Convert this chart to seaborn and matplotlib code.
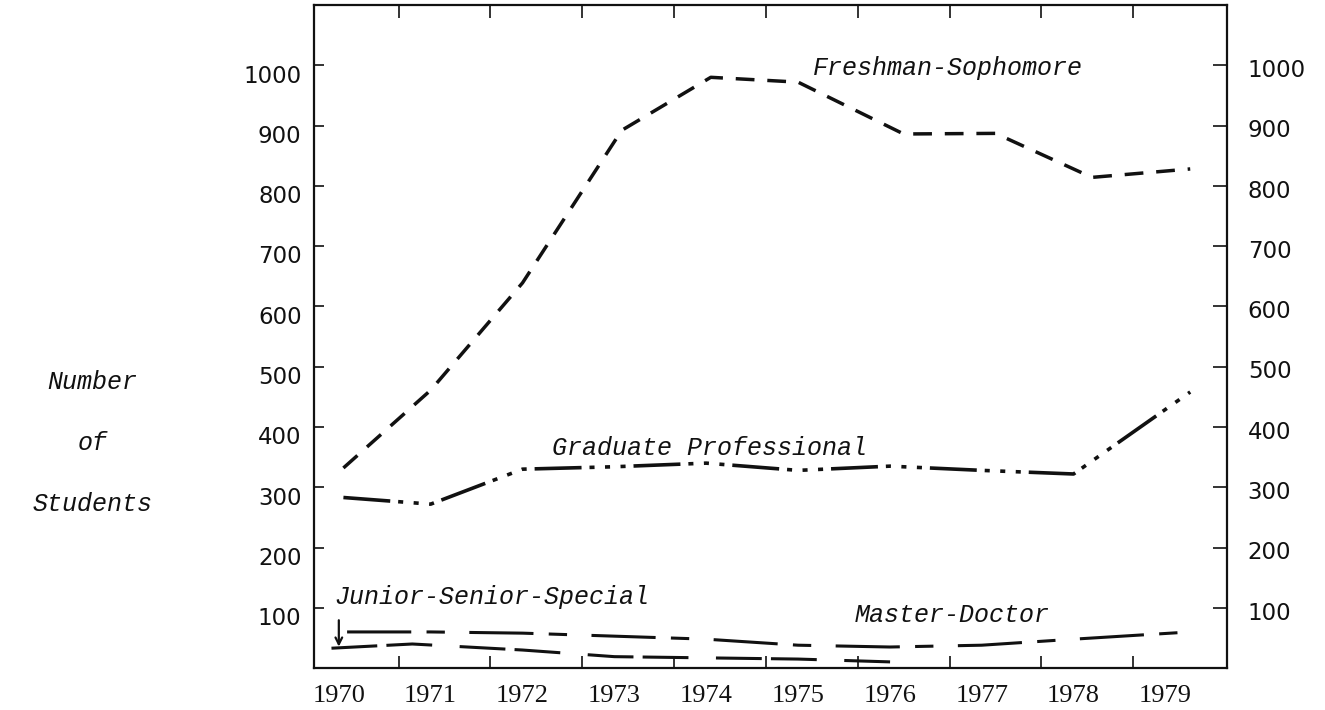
import numpy as np
import seaborn as sns
import matplotlib.pyplot as plt
from matplotlib.transforms import ScaledTranslation

# Tahun pada sumbu x dan nilai tiap kelompok mahasiswa
tahun = [1970, 1971, 1972, 1973, 1974, 1975, 1976, 1977, 1978, 1979]
y_ticks = [100, 200, 300, 400, 500, 600, 700, 800, 900, 1000]

fresh_x = [1970.05, 1971.0, 1972.0, 1973.08, 1974.05, 1975.0, 1976.15, 1977.15, 1978.2, 1979.27]
fresh_y = [332, 461, 639, 892, 980, 972, 886, 887, 814, 828]

grad_x = [1970.05, 1971.0, 1972.0, 1973.0, 1974.0, 1975.0, 1976.0, 1977.0, 1978.0, 1979.27]
grad_y = [283, 272, 330, 334, 340, 328, 335, 328, 322, 458]

master_x = [1970.09, 1971.0, 1972.0, 1973.0, 1974.0, 1975.0, 1976.0, 1977.0, 1978.0, 1979.27]
master_y = [60, 60, 58, 53, 48, 38, 35, 38, 48, 60]

junior_x = [1969.92, 1970.8, 1972.0, 1973.0, 1974.0, 1975.0, 1976.07]
junior_y = [33, 40, 30, 19, 17, 15, 10]

sns.set_theme(style="white")
plt.rcParams['font.family'] = ['DejaVu Sans']

fig = plt.figure(figsize=(13.25, 7.1), dpi=100)
ax = fig.add_axes([0.237, 0.059, 0.689, 0.934])

warna = '#111111'
# Freshman-Sophomore: garis putus-putus
sns.lineplot(x=fresh_x, y=fresh_y, ax=ax, color=warna, lw=2.5, errorbar=None)
ax.lines[-1].set_linestyle((0, (5.4, 3.7)))
# Graduate Professional: garis-titik-titik-titik
sns.lineplot(x=grad_x, y=grad_y, ax=ax, color=warna, lw=2.6, errorbar=None)
ax.lines[-1].set_linestyle((0, (13, 2.2, 1.4, 2.9, 1.4, 2.9, 1.4, 2.2)))
# Master-Doctor: panjang-pendek
sns.lineplot(x=master_x, y=master_y, ax=ax, color=warna, lw=2.2, errorbar=None)
ax.lines[-1].set_linestyle((0, (21, 5, 6, 8)))
# Junior-Senior-Special
sns.lineplot(x=junior_x, y=junior_y, ax=ax, color=warna, lw=2.2, errorbar=None)
ax.lines[-1].set_linestyle((0, (15, 3, 15, 9)))

ax.set_xlim(1969.73, 1979.67)
ax.set_ylim(0, 1100)

# Label sumbu y di kiri dan kanan
ax.set_yticks(y_ticks)
ax.set_yticklabels([str(v) for v in y_ticks])
ax.tick_params(axis='y', which='major', direction='in', left=True, right=True,
               labelleft=True, labelright=True, length=7, width=1.2,
               labelsize=16.5, colors=warna, pad=9)
for t in ax.yaxis.get_major_ticks():
    t.tick2line.set_markersize(10)
    t.label1.set_transform(t.label1.get_transform() +
                           ScaledTranslation(0, -6 / 72, fig.dpi_scale_trans))
    t.label2.set_transform(t.label2.get_transform() +
                           ScaledTranslation(6 / 72, -2 / 72, fig.dpi_scale_trans))

# Label tahun di bawah, tanda tick di antara tahun
ax.set_xticks(tahun)
ax.set_xticklabels([str(t) for t in tahun], family='Liberation Serif')
ax.set_xticks(np.arange(9) + tahun[0] + 0.65, minor=True)
ax.tick_params(axis='x', which='major', length=0, pad=12, labelsize=19, colors=warna)
ax.tick_params(axis='x', which='minor', direction='in', top=True, bottom=True,
               length=9, width=1.2, color=warna)

for s in ax.spines.values():
    s.set_color(warna)
    s.set_linewidth(1.6)
ax.set_xlabel('')
ax.set_ylabel('')

mono = dict(family='Liberation Mono', style='italic', fontsize=18, color=warna)
ax.text(1975.16, 995, 'Freshman-Sophomore', va='center', ha='left', **mono)
ax.text(1972.32, 365, 'Graduate Professional', va='center', ha='left', **mono)
ax.text(1969.95, 118, 'Junior-Senior-Special', va='center', ha='left', **mono)
ax.text(1975.62, 88, 'Master-Doctor', va='center', ha='left', **mono)

ax.annotate('', xy=(junior_x[0] + 0.08, junior_y[0] - 2), xytext=(junior_x[0] + 0.08, 84),
            arrowprops=dict(arrowstyle='->', color=warna, lw=1.6))

# Judul sumbu y, tiga baris di sebelah kiri
fig.text(0.07, 1 - 382 / 710, 'Number', ha='center', va='center', **mono)
fig.text(0.07, 1 - 443 / 710, 'of', ha='center', va='center', **mono)
fig.text(0.07, 1 - 504 / 710, 'Students', ha='center', va='center', **mono)

fig.savefig('out.png', dpi=100, facecolor='white')
